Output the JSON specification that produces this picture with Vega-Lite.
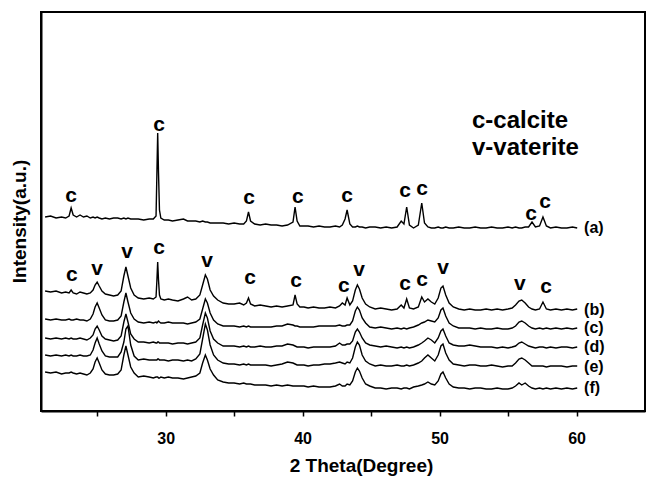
{
"$schema": "https://vega.github.io/schema/vega-lite/v6.json",
"width": 604, "height": 399,
"autosize": {"type": "none"},
"padding": {"left": 41, "top": 12, "right": 1, "bottom": 66},
"background": "white",
"config": {"view": {"stroke": "#000", "strokeWidth": 2}, "font": "Liberation Sans"},
"datasets": {
"xrd": [
{"x":21.2,"a":194,"b":120,"c":92,"d":73,"e":56,"f":39},
{"x":21.6,"a":195,"b":119,"c":91,"d":72,"e":55,"f":38},
{"x":22.0,"a":193,"b":120,"c":92,"d":73,"e":56,"f":39},
{"x":22.4,"a":194,"b":118,"c":91,"d":72,"e":55,"f":37},
{"x":22.7,"a":193,"b":119,"c":91,"d":73,"e":56,"f":38},
{"x":22.95,"a":195,"b":118,"c":92,"d":72,"e":55,"f":38},
{"x":23.1,"a":203,"b":121,"c":91,"d":73,"e":56,"f":39},
{"x":23.25,"a":196,"b":118,"c":91,"d":72,"e":55,"f":38},
{"x":23.5,"a":194,"b":117,"c":92,"d":72,"e":55,"f":37},
{"x":23.75,"a":196,"b":119,"c":91,"d":73,"e":56,"f":38},
{"x":24.0,"a":194,"b":118,"c":91,"d":72,"e":55,"f":37},
{"x":24.25,"a":195,"b":117,"c":90,"d":71,"e":55,"f":36},
{"x":24.5,"a":193,"b":118,"c":92,"d":73,"e":56,"f":38},
{"x":24.7,"a":194,"b":121,"c":97,"d":76,"e":61,"f":42},
{"x":24.85,"a":193,"b":126,"c":104,"d":82,"e":68,"f":49},
{"x":25.0,"a":194,"b":129,"c":108,"d":85,"e":73,"f":53},
{"x":25.15,"a":193,"b":125,"c":103,"d":81,"e":67,"f":48},
{"x":25.35,"a":192,"b":120,"c":96,"d":75,"e":60,"f":41},
{"x":25.6,"a":193,"b":117,"c":91,"d":72,"e":55,"f":37},
{"x":25.9,"a":192,"b":116,"c":90,"d":71,"e":54,"f":36},
{"x":26.2,"a":193,"b":115,"c":90,"d":70,"e":54,"f":36},
{"x":26.5,"a":193,"b":116,"c":91,"d":71,"e":54,"f":37},
{"x":26.75,"a":192,"b":120,"c":95,"d":75,"e":59,"f":41},
{"x":26.95,"a":193,"b":135,"c":109,"d":89,"e":69,"f":56},
{"x":27.1,"a":192,"b":144,"c":118,"d":97,"e":82,"f":65},
{"x":27.25,"a":193,"b":135,"c":109,"d":89,"e":85,"f":56},
{"x":27.45,"a":192,"b":123,"c":98,"d":77,"e":66,"f":44},
{"x":27.7,"a":192,"b":116,"c":92,"d":72,"e":55,"f":38},
{"x":28.0,"a":192,"b":113,"c":89,"d":69,"e":51,"f":34},
{"x":28.4,"a":191,"b":112,"c":88,"d":69,"e":52,"f":35},
{"x":28.8,"a":192,"b":113,"c":89,"d":68,"e":51,"f":34},
{"x":29.1,"a":192,"b":112,"c":88,"d":69,"e":51,"f":33},
{"x":29.3,"a":195,"b":114,"c":89,"d":68,"e":51,"f":34},
{"x":29.36,"a":236,"b":130,"c":88,"d":68,"e":51,"f":34},
{"x":29.42,"a":278,"b":149,"c":89,"d":69,"e":52,"f":34},
{"x":29.48,"a":238,"b":131,"c":90,"d":69,"e":52,"f":33},
{"x":29.55,"a":201,"b":116,"c":89,"d":68,"e":51,"f":33},
{"x":29.65,"a":193,"b":112,"c":88,"d":68,"e":51,"f":34},
{"x":29.9,"a":191,"b":111,"c":88,"d":68,"e":51,"f":33},
{"x":30.2,"a":191,"b":112,"c":89,"d":68,"e":50,"f":34},
{"x":30.5,"a":190,"b":111,"c":88,"d":67,"e":51,"f":33},
{"x":30.9,"a":191,"b":110,"c":88,"d":68,"e":51,"f":33},
{"x":31.3,"a":192,"b":112,"c":88,"d":68,"e":50,"f":32},
{"x":31.6,"a":190,"b":114,"c":87,"d":67,"e":51,"f":33},
{"x":31.9,"a":190,"b":111,"c":88,"d":68,"e":50,"f":34},
{"x":32.2,"a":190,"b":112,"c":89,"d":69,"e":52,"f":35},
{"x":32.5,"a":189,"b":116,"c":92,"d":73,"e":57,"f":38},
{"x":32.7,"a":190,"b":126,"c":102,"d":86,"e":72,"f":48},
{"x":32.9,"a":189,"b":136,"c":112,"d":98,"e":87,"f":56},
{"x":33.05,"a":189,"b":132,"c":108,"d":93,"e":81,"f":51},
{"x":33.25,"a":188,"b":121,"c":98,"d":80,"e":66,"f":42},
{"x":33.5,"a":188,"b":115,"c":91,"d":72,"e":56,"f":36},
{"x":33.8,"a":188,"b":111,"c":87,"d":68,"e":51,"f":31},
{"x":34.2,"a":188,"b":108,"c":85,"d":65,"e":48,"f":29},
{"x":34.6,"a":187,"b":107,"c":85,"d":65,"e":47,"f":28},
{"x":35.0,"a":188,"b":107,"c":85,"d":65,"e":47,"f":28},
{"x":35.4,"a":187,"b":108,"c":84,"d":64,"e":46,"f":27},
{"x":35.7,"a":187,"b":106,"c":85,"d":65,"e":47,"f":28},
{"x":35.9,"a":190,"b":108,"c":84,"d":64,"e":46,"f":27},
{"x":36.05,"a":199,"b":113,"c":85,"d":65,"e":47,"f":27},
{"x":36.2,"a":190,"b":107,"c":84,"d":64,"e":46,"f":27},
{"x":36.5,"a":187,"b":105,"c":84,"d":64,"e":46,"f":26},
{"x":36.9,"a":186,"b":106,"c":84,"d":65,"e":46,"f":26},
{"x":37.3,"a":187,"b":105,"c":84,"d":64,"e":46,"f":26},
{"x":37.7,"a":186,"b":104,"c":84,"d":64,"e":45,"f":25},
{"x":38.1,"a":186,"b":105,"c":85,"d":65,"e":46,"f":26},
{"x":38.5,"a":185,"b":104,"c":85,"d":65,"e":47,"f":25},
{"x":38.9,"a":186,"b":105,"c":87,"d":67,"e":49,"f":26},
{"x":39.3,"a":189,"b":106,"c":86,"d":66,"e":48,"f":25},
{"x":39.45,"a":204,"b":116,"c":85,"d":65,"e":47,"f":25},
{"x":39.6,"a":190,"b":107,"c":85,"d":64,"e":46,"f":25},
{"x":39.8,"a":185,"b":104,"c":84,"d":64,"e":46,"f":25},
{"x":40.1,"a":185,"b":104,"c":84,"d":64,"e":46,"f":25},
{"x":40.4,"a":185,"b":103,"c":84,"d":63,"e":45,"f":24},
{"x":40.8,"a":184,"b":104,"c":84,"d":64,"e":46,"f":25},
{"x":41.2,"a":185,"b":103,"c":85,"d":64,"e":46,"f":24},
{"x":41.6,"a":184,"b":103,"c":85,"d":64,"e":47,"f":24},
{"x":42.0,"a":184,"b":104,"c":85,"d":64,"e":47,"f":24},
{"x":42.4,"a":185,"b":103,"c":85,"d":65,"e":48,"f":25},
{"x":42.7,"a":184,"b":105,"c":86,"d":68,"e":49,"f":27},
{"x":42.9,"a":186,"b":108,"c":85,"d":66,"e":48,"f":25},
{"x":43.1,"a":192,"b":106,"c":85,"d":66,"e":47,"f":25},
{"x":43.25,"a":201,"b":113,"c":86,"d":67,"e":49,"f":27},
{"x":43.45,"a":187,"b":106,"c":86,"d":67,"e":48,"f":26},
{"x":43.65,"a":184,"b":110,"c":90,"d":70,"e":53,"f":30},
{"x":43.85,"a":184,"b":121,"c":100,"d":79,"e":64,"f":39},
{"x":44.0,"a":185,"b":126,"c":104,"d":82,"e":69,"f":43},
{"x":44.15,"a":184,"b":122,"c":101,"d":79,"e":66,"f":40},
{"x":44.35,"a":184,"b":113,"c":93,"d":73,"e":56,"f":33},
{"x":44.6,"a":183,"b":107,"c":88,"d":68,"e":50,"f":27},
{"x":44.9,"a":184,"b":104,"c":84,"d":66,"e":47,"f":25},
{"x":45.3,"a":184,"b":102,"c":83,"d":65,"e":45,"f":23},
{"x":45.7,"a":183,"b":103,"c":84,"d":64,"e":46,"f":23},
{"x":46.1,"a":184,"b":102,"c":83,"d":65,"e":45,"f":22},
{"x":46.5,"a":183,"b":101,"c":82,"d":64,"e":45,"f":23},
{"x":46.9,"a":184,"b":102,"c":83,"d":63,"e":46,"f":23},
{"x":47.2,"a":190,"b":106,"c":82,"d":64,"e":45,"f":22},
{"x":47.4,"a":187,"b":103,"c":83,"d":63,"e":45,"f":23},
{"x":47.6,"a":204,"b":112,"c":82,"d":64,"e":46,"f":23},
{"x":47.8,"a":186,"b":103,"c":83,"d":63,"e":45,"f":22},
{"x":48.1,"a":183,"b":102,"c":84,"d":64,"e":46,"f":24},
{"x":48.45,"a":186,"b":104,"c":86,"d":66,"e":48,"f":25},
{"x":48.7,"a":208,"b":114,"c":88,"d":68,"e":50,"f":26},
{"x":48.9,"a":188,"b":109,"c":89,"d":70,"e":53,"f":27},
{"x":49.15,"a":184,"b":112,"c":91,"d":73,"e":56,"f":29},
{"x":49.4,"a":183,"b":109,"c":90,"d":71,"e":53,"f":27},
{"x":49.65,"a":183,"b":107,"c":89,"d":68,"e":50,"f":26},
{"x":49.9,"a":184,"b":113,"c":93,"d":73,"e":56,"f":30},
{"x":50.1,"a":183,"b":123,"c":101,"d":80,"e":65,"f":37},
{"x":50.25,"a":183,"b":125,"c":103,"d":82,"e":67,"f":39},
{"x":50.45,"a":184,"b":116,"c":95,"d":75,"e":58,"f":33},
{"x":50.7,"a":183,"b":108,"c":88,"d":68,"e":51,"f":27},
{"x":51.0,"a":183,"b":104,"c":85,"d":66,"e":47,"f":24},
{"x":51.4,"a":184,"b":102,"c":83,"d":65,"e":46,"f":23},
{"x":51.8,"a":183,"b":101,"c":83,"d":65,"e":45,"f":23},
{"x":52.2,"a":183,"b":102,"c":83,"d":66,"e":46,"f":22},
{"x":52.6,"a":184,"b":101,"c":82,"d":65,"e":46,"f":23},
{"x":53.0,"a":183,"b":101,"c":83,"d":64,"e":45,"f":23},
{"x":53.4,"a":183,"b":102,"c":82,"d":64,"e":45,"f":22},
{"x":53.8,"a":184,"b":101,"c":82,"d":64,"e":46,"f":22},
{"x":54.2,"a":183,"b":102,"c":83,"d":63,"e":45,"f":23},
{"x":54.6,"a":183,"b":101,"c":82,"d":64,"e":44,"f":22},
{"x":55.0,"a":184,"b":102,"c":82,"d":63,"e":45,"f":22},
{"x":55.3,"a":183,"b":103,"c":83,"d":64,"e":45,"f":23},
{"x":55.55,"a":184,"b":106,"c":85,"d":65,"e":48,"f":25},
{"x":55.8,"a":183,"b":110,"c":89,"d":68,"e":52,"f":28},
{"x":56.0,"a":183,"b":111,"c":90,"d":69,"e":53,"f":26},
{"x":56.25,"a":184,"b":108,"c":88,"d":67,"e":51,"f":28},
{"x":56.5,"a":184,"b":104,"c":85,"d":65,"e":48,"f":25},
{"x":56.75,"a":189,"b":102,"c":83,"d":64,"e":45,"f":23},
{"x":57.0,"a":184,"b":101,"c":82,"d":63,"e":45,"f":22},
{"x":57.3,"a":185,"b":102,"c":83,"d":64,"e":45,"f":23},
{"x":57.55,"a":194,"b":109,"c":82,"d":64,"e":45,"f":22},
{"x":57.8,"a":185,"b":102,"c":83,"d":63,"e":44,"f":23},
{"x":58.1,"a":183,"b":101,"c":82,"d":64,"e":45,"f":22},
{"x":58.5,"a":184,"b":102,"c":83,"d":63,"e":45,"f":23},
{"x":58.9,"a":183,"b":101,"c":82,"d":64,"e":45,"f":22},
{"x":59.3,"a":183,"b":102,"c":83,"d":64,"e":44,"f":23},
{"x":59.7,"a":184,"b":101,"c":82,"d":63,"e":45,"f":22},
{"x":60.05,"a":183,"b":102,"c":83,"d":64,"e":45,"f":23}
],
"peaks": [
{"x":23.09,"intensity":215,"phase":"c"},
{"x":29.52,"intensity":286,"phase":"c"},
{"x":36.09,"intensity":213,"phase":"c"},
{"x":39.66,"intensity":214,"phase":"c"},
{"x":43.24,"intensity":215,"phase":"c"},
{"x":47.48,"intensity":220,"phase":"c"},
{"x":48.72,"intensity":222,"phase":"c"},
{"x":56.68,"intensity":197,"phase":"c"},
{"x":57.7,"intensity":209,"phase":"c"},
{"x":23.16,"intensity":136,"phase":"c"},
{"x":24.99,"intensity":142,"phase":"v"},
{"x":27.18,"intensity":159,"phase":"v"},
{"x":29.52,"intensity":163,"phase":"c"},
{"x":33.02,"intensity":150,"phase":"v"},
{"x":36.16,"intensity":133,"phase":"c"},
{"x":39.52,"intensity":130,"phase":"c"},
{"x":43.02,"intensity":125,"phase":"c"},
{"x":44.12,"intensity":141,"phase":"v"},
{"x":47.48,"intensity":127,"phase":"c"},
{"x":48.72,"intensity":131,"phase":"c"},
{"x":50.25,"intensity":143,"phase":"v"},
{"x":55.87,"intensity":127,"phase":"v"},
{"x":57.77,"intensity":124,"phase":"c"}
],
"samples": [
{"x":60.55,"intensity":183,"label":"(a)"},
{"x":60.55,"intensity":101,"label":"(b)"},
{"x":60.55,"intensity":83,"label":"(c)"},
{"x":60.55,"intensity":64,"label":"(d)"},
{"x":60.55,"intensity":44,"label":"(e)"},
{"x":60.55,"intensity":23,"label":"(f)"}
],
"legend": [
{"x":52.37,"intensity":283,"label":"c-calcite"},
{"x":52.37,"intensity":256,"label":"v-vaterite"}
]
},
"layer": [
{
"data": {"name": "xrd"},
"transform": [{"fold": ["a","b","c","d","e","f"], "as": ["sample","intensity"]}],
"mark": {"type": "line", "color": "#000", "strokeWidth": 1.4},
"encoding": {
"x": {"field": "x", "type": "quantitative", "scale": {"domain": [20.9, 65], "nice": false, "zero": false},
"axis": {"title": "2 Theta(Degree)", "values": [25,30,35,40,45,50,55,60], "labelExpr": "datum.value % 10 === 0 ? datum.label : ''", "grid": false, "domainColor": "#000", "domainWidth": 2, "tickColor": "#000", "tickWidth": 1.5, "tickSize": 5, "labelFont": "Liberation Sans", "labelFontSize": 16, "labelFontWeight": "bold", "labelColor": "#000", "labelPadding": 14, "titleFont": "Liberation Sans", "titleFontSize": 19, "titleFontWeight": "bold", "titleColor": "#000", "titlePadding": 10, "titleX": 320}},
"y": {"field": "intensity", "type": "quantitative", "scale": {"domain": [0, 399], "nice": false, "zero": false},
"axis": {"title": "Intensity(a.u.)", "ticks": false, "labels": false, "grid": false, "domainColor": "#000", "domainWidth": 2, "titleFont": "Liberation Sans", "titleFontSize": 19, "titleFontWeight": "bold", "titleColor": "#000", "titlePadding": 12, "titleY": 209}},
"detail": {"field": "sample"}
}
},
{
"data": {"name": "peaks"},
"mark": {"type": "text", "fontSize": 21, "fontWeight": "bold", "font": "Liberation Sans", "baseline": "middle", "align": "center", "color": "#000"},
"encoding": {
"x": {"field": "x", "type": "quantitative", "scale": {"domain": [20.9, 65], "nice": false, "zero": false}},
"y": {"field": "intensity", "type": "quantitative", "scale": {"domain": [0, 399], "nice": false, "zero": false}},
"text": {"field": "phase"}
}
},
{
"data": {"name": "samples"},
"mark": {"type": "text", "fontSize": 16, "fontWeight": "bold", "font": "Liberation Sans", "baseline": "middle", "align": "left", "color": "#000"},
"encoding": {
"x": {"field": "x", "type": "quantitative", "scale": {"domain": [20.9, 65], "nice": false, "zero": false}},
"y": {"field": "intensity", "type": "quantitative", "scale": {"domain": [0, 399], "nice": false, "zero": false}},
"text": {"field": "label"}
}
},
{
"data": {"name": "legend"},
"mark": {"type": "text", "fontSize": 24, "fontWeight": "bold", "font": "Liberation Sans", "baseline": "alphabetic", "align": "left", "color": "#000"},
"encoding": {
"x": {"field": "x", "type": "quantitative", "scale": {"domain": [20.9, 65], "nice": false, "zero": false}},
"y": {"field": "intensity", "type": "quantitative", "scale": {"domain": [0, 399], "nice": false, "zero": false}},
"text": {"field": "label"}
}
}
]
}
